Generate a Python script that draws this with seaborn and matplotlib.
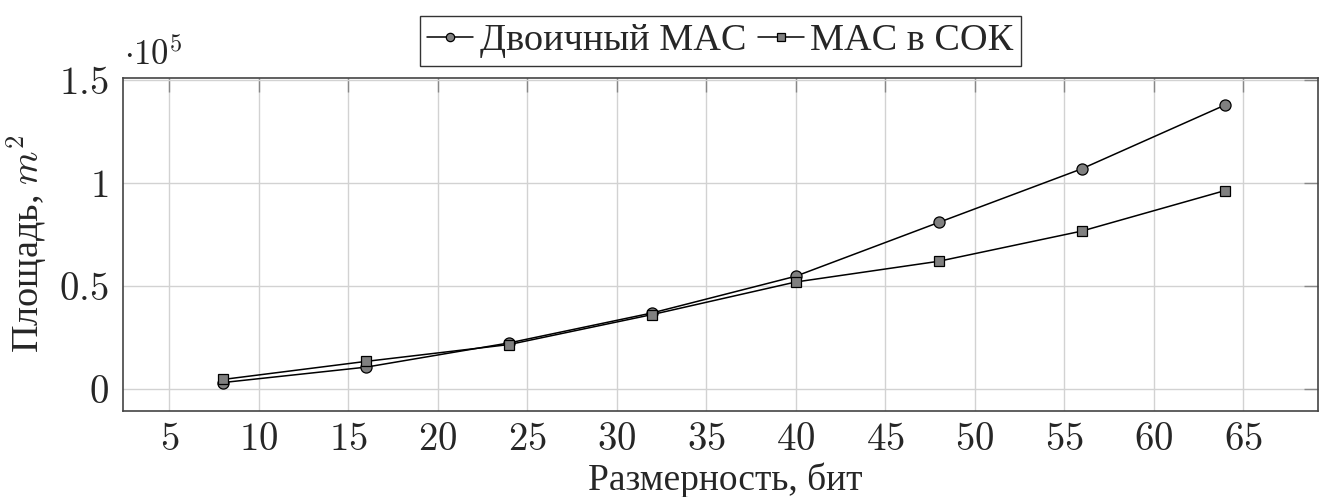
import matplotlib
matplotlib.use("Agg")
import matplotlib.pyplot as plt
import numpy as np
import pandas as pd
import seaborn as sns
from matplotlib.ticker import FixedLocator, FixedFormatter

# Operand width (bits) and chip area for the two multiply-accumulate designs
bits = [8, 16, 24, 32, 40, 48, 56, 64]
binary_mac = [3000, 10500, 22300, 36900, 54700, 80900, 107000, 138000]
rns_mac = [4500, 13300, 21500, 36100, 51900, 62000, 76700, 96400]
series_names = ["Двоичный MAC", "MAC в СОК"]

x_ticks = [5, 10, 15, 20, 25, 30, 35, 40, 45, 50, 55, 60, 65]
y_ticks = [0, 50000, 100000, 150000]
y_tick_labels = ["0", "0.5", "1", "1.5"]

sns.set_theme(style="white")
plt.rcParams["font.family"] = ["Liberation Serif", "DejaVu Serif"]
plt.rcParams["mathtext.fontset"] = "cm"

df = pd.concat([
    pd.DataFrame({"bits": bits, "area": binary_mac, "series": series_names[0]}),
    pd.DataFrame({"bits": bits, "area": rns_mac, "series": series_names[1]}),
])

fig = plt.figure(figsize=(13.2, 4.97), dpi=100)
ax = fig.add_axes([0.093, 0.1737, 0.9056, 0.670])

markers = {series_names[0]: "o", series_names[1]: "s"}
sizes = {series_names[0]: 8.0, series_names[1]: 7.5}
for name in series_names:
    sns.lineplot(data=df[df["series"] == name], x="bits", y="area", ax=ax,
                 color="black", linewidth=1.1, marker=markers[name],
                 markersize=sizes[name], markerfacecolor="#808080",
                 markeredgecolor="black", markeredgewidth=0.9,
                 legend=False, zorder=3, clip_on=False)

ax.set_xlim(2.4, 69.2)
ax.set_ylim(-10680, 151300)

ax.xaxis.set_major_locator(FixedLocator(x_ticks))
ax.xaxis.set_major_formatter(FixedFormatter([f"${v}$" for v in x_ticks]))
ax.yaxis.set_major_locator(FixedLocator(y_ticks))
ax.yaxis.set_major_formatter(FixedFormatter([f"${v}$" for v in y_tick_labels]))

ax.tick_params(axis="both", direction="in", length=10, width=1.0,
               color="#888888", labelsize=28, top=True, right=True)
ax.tick_params(axis="x", pad=8)
ax.tick_params(axis="y", pad=10)

ax.grid(True, color="#d2d2d2", linewidth=1.0)
ax.set_axisbelow(True)
for sp in ax.spines.values():
    sp.set_color("#444444")
    sp.set_linewidth(1.2)

ax.set_xlabel("Размерность, бит", fontsize=27)
ax.set_ylabel("Площадь, $m^2$", fontsize=27.5)
ax.xaxis.set_label_coords(0.504, -0.155)
ax.yaxis.set_label_coords(-0.061, 0.5)

fig.text(0.094, 0.869, r"$\cdot 10^5$", fontsize=25, ha="left", va="baseline")

handles = ax.get_lines()[:2]
leg = ax.legend(handles, series_names, loc="lower center",
                bbox_to_anchor=(0.5, 1.035), ncol=2, frameon=True,
                fancybox=False, edgecolor="black", fontsize=27.5,
                handlelength=1.2, handletextpad=0.18, columnspacing=0.3,
                borderpad=0.2, borderaxespad=0, markerscale=0.75)
leg.get_frame().set_linewidth(1.0)

fig.savefig("out.png", dpi=100)
